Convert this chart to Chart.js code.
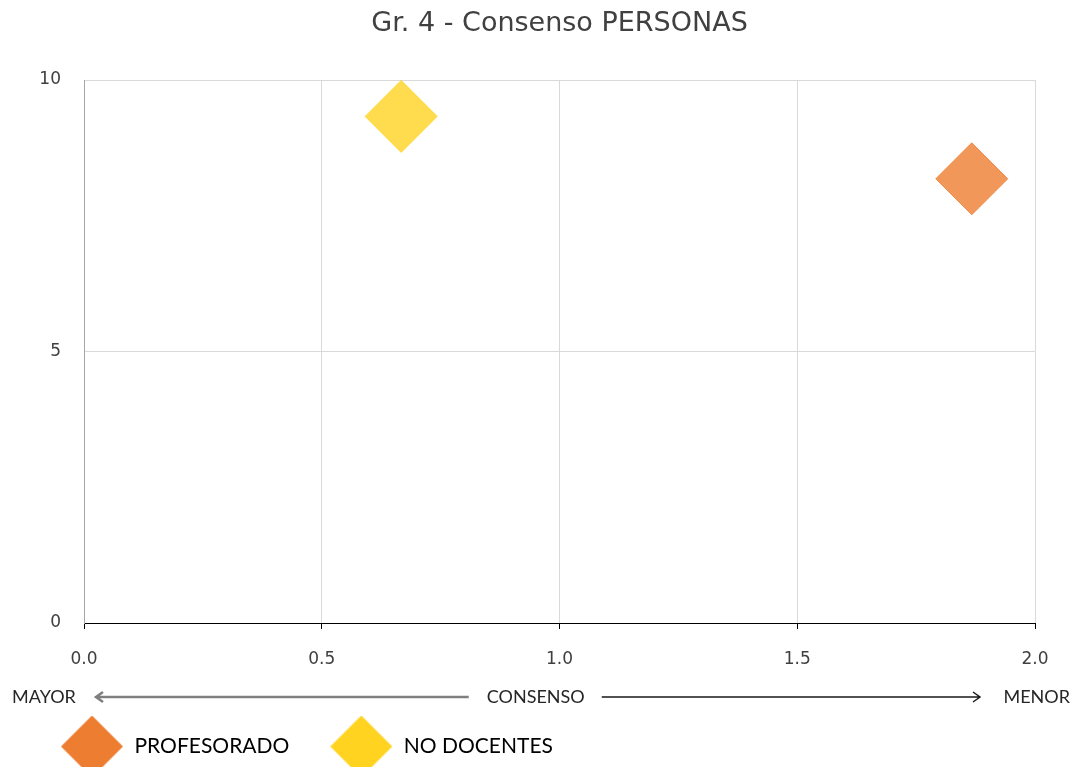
<!DOCTYPE html>
<html lang="es">
<head>
  <meta charset="UTF-8" />
  <title>Gr. 4 - Consenso PERSONAS</title>
  <script src="https://cdn.jsdelivr.net/npm/chart.js"></script>
  <style>
    body {
      margin: 0;
      background: #fff;
    }
    #chart {
      display: block;
    }
  </style>
</head>
<body>

<canvas id="chart" width="1078" height="780"></canvas>

<script>
const seriesNames = ["PROFESORADO", "NO DOCENTES"];
const seriesColors = ["#ED7D31", "#FFD320"];
const consensoX = [1.867, 0.667];
const valorY = [8.18, 9.33];
const xTicks = [0, 0.5, 1, 1.5, 2];
const yTicks = [0, 5, 10];

function withAlpha(hex, a) {
  const n = parseInt(hex.slice(1), 16);
  return `rgba(${n >> 16}, ${(n >> 8) & 255}, ${n & 255}, ${a})`;
}

// big diamonds for the legend (legend point styles are capped at font size)
function diamondIcon(color, size) {
  const c = document.createElement("canvas");
  c.width = size;
  c.height = size;
  const g = c.getContext("2d");
  g.fillStyle = color;
  g.beginPath();
  g.moveTo(size / 2, 0);
  g.lineTo(size, size / 2);
  g.lineTo(size / 2, size);
  g.lineTo(0, size / 2);
  g.closePath();
  g.fill();
  return c;
}

// "MAYOR <---- CONSENSO ----> MENOR" row under the x axis
const consensoRow = {
  id: "consensoRow",
  afterDraw(chart) {
    const { ctx, chartArea } = chart;
    const y = chartArea.bottom + 74;
    ctx.save();
    ctx.font = "18px Lato";
    ctx.fillStyle = "#262626";
    ctx.textBaseline = "middle";

    ctx.textAlign = "left";
    ctx.fillText("MAYOR", 12, y);
    ctx.textAlign = "right";
    ctx.fillText("MENOR", chart.width - 8, y);

    const cx = chartArea.left + chartArea.width * 0.475;
    ctx.textAlign = "center";
    ctx.fillText("CONSENSO", cx, y);
    const cw = ctx.measureText("CONSENSO").width;

    // left arrow (grey, thicker)
    const l0 = cx - cw / 2 - 18;
    const l1 = chartArea.left + 12;
    ctx.strokeStyle = "#7f7f7f";
    ctx.lineWidth = 2.5;
    ctx.beginPath();
    ctx.moveTo(l0, y);
    ctx.lineTo(l1, y);
    ctx.moveTo(l1 + 7, y - 5);
    ctx.lineTo(l1, y);
    ctx.lineTo(l1 + 7, y + 5);
    ctx.stroke();

    // right arrow (black, thin)
    const r0 = cx + cw / 2 + 17;
    const r1 = chartArea.right - 55;
    ctx.strokeStyle = "#1a1a1a";
    ctx.lineWidth = 1.5;
    ctx.beginPath();
    ctx.moveTo(r0, y);
    ctx.lineTo(r1, y);
    ctx.moveTo(r1 - 7, y - 5);
    ctx.lineTo(r1, y);
    ctx.lineTo(r1 - 7, y + 5);
    ctx.stroke();
    ctx.restore();
  }
};

const legendIcons = seriesColors.map(c => diamondIcon(c, 62));

const datasets = seriesNames.map((name, i) => ({
  label: name,
  data: [{ x: consensoX[i], y: valorY[i] }],
  pointStyle: "rectRot",
  pointRadius: 36,
  pointHoverRadius: 36,
  backgroundColor: withAlpha(seriesColors[i], 0.8),
  borderColor: withAlpha(seriesColors[i], 0.8),
  borderWidth: 1
}));

new Chart(document.getElementById("chart"), {
  type: "scatter",
  data: { datasets: datasets },
  options: {
    responsive: false,
    animation: false,
    layout: { padding: { left: 20, right: 43, top: 0, bottom: 13 } },
    scales: {
      x: {
        type: "linear",
        min: 0,
        max: 2,
        afterBuildTicks: s => { s.ticks = xTicks.map(v => ({ value: v })); },
        afterFit: s => { s.height = 73; },
        ticks: {
          color: "#404040",
          font: { family: "DejaVu Sans", size: 17 },
          padding: 20,
          maxRotation: 0,
          callback: v => v.toFixed(1)
        },
        grid: { color: "#d9d9d9", tickColor: "#000", tickLength: 6 },
        border: { color: "#000", width: 1 }
      },
      y: {
        type: "linear",
        min: 0,
        max: 10,
        afterBuildTicks: s => { s.ticks = yTicks.map(v => ({ value: v })); },
        afterFit: s => { s.width = 64; },
        ticks: {
          color: "#404040",
          font: { family: "DejaVu Sans", size: 17 },
          padding: 23
        },
        grid: { color: "#d9d9d9", drawTicks: false },
        border: { color: "#a6a6a6", width: 1 }
      }
    },
    plugins: {
      title: {
        display: true,
        fullSize: false,
        text: "Gr. 4 - Consenso PERSONAS",
        color: "#404040",
        font: { family: "DejaVu Sans", size: 27, weight: "normal" },
        padding: { top: 8, bottom: 39.6 }
      },
      legend: {
        position: "bottom",
        align: "start",
        labels: {
          usePointStyle: true,
          pointStyleWidth: 64,
          padding: 40,
          color: "#262626",
          font: { family: "Lato", size: 21 },
          generateLabels: chart => chart.data.datasets.map((ds, i) => ({
            text: ds.label,
            pointStyle: legendIcons[i],
            fillStyle: seriesColors[i],
            strokeStyle: seriesColors[i],
            lineWidth: 0,
            datasetIndex: i,
            hidden: false
          }))
        }
      },
      tooltip: { enabled: false }
    }
  },
  plugins: [consensoRow]
});
</script>

</body>
</html>
